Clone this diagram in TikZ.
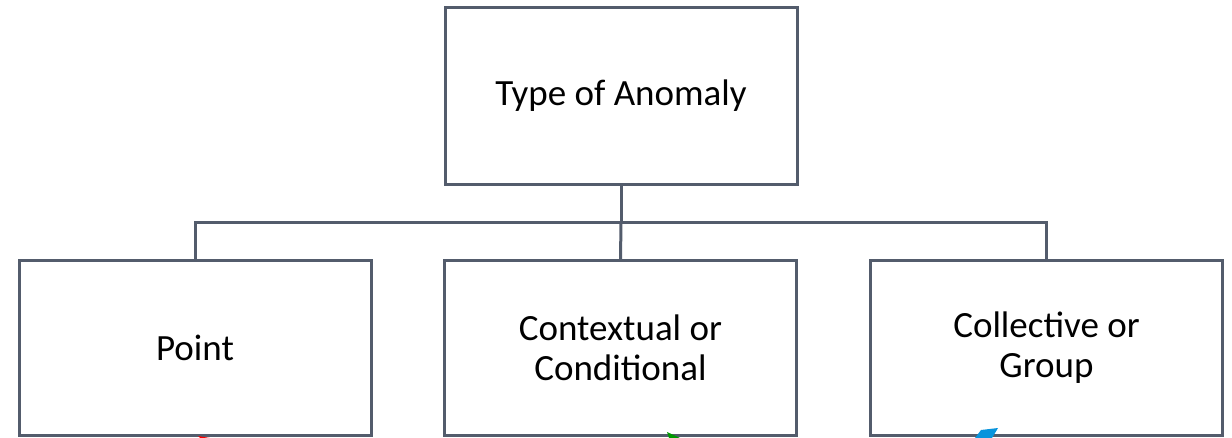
\documentclass[tikz,border=0pt]{standalone}
\usepackage{fontspec}
\setmainfont{Carlito}
\begin{document}
\begin{tikzpicture}[x=1pt,y=-1pt,
  edge/.style={draw=boxline,line width=3pt},
  box/.style={draw=boxline,line width=3pt,fill=white,minimum width=352pt,align=center,font=\fontsize{37}{40}\selectfont,text=black}]
\definecolor{boxline}{HTML}{535C6C}
\useasboundingbox (0,0) rectangle (1232,438);
\fill[white] (0,0) rectangle (1232,438);
% root and children
\node[box,minimum height=177pt] (root) at (621,96) {Type of Anomaly};
\node[box,minimum height=174pt] (point) at (195,348) {Point};
\node[box,minimum height=175pt] (ctx) at (620.5,348) {Contextual or\\Conditional};
\node[box,minimum height=174pt] (coll) at (1046.5,348) {Collective or\\Group};
% bus connector
\coordinate (bus) at (621,223);
\draw[edge] (root.south) -- (bus);
\draw[edge] (point.north) |- (bus) -| (coll.north);
\draw[edge] (bus) -- (ctx.north);
% tips of arrows entering from below
\fill[red] (198,436) -- (210,438) -- (200,438) -- cycle;
\fill[green!60!black] (667,432) -- (680,438) -- (669,438) -- cycle;
\fill[cyan!80!blue] (981,430) -- (998,428) -- (992,438) -- (975,438) -- cycle;
\end{tikzpicture}
\end{document}
